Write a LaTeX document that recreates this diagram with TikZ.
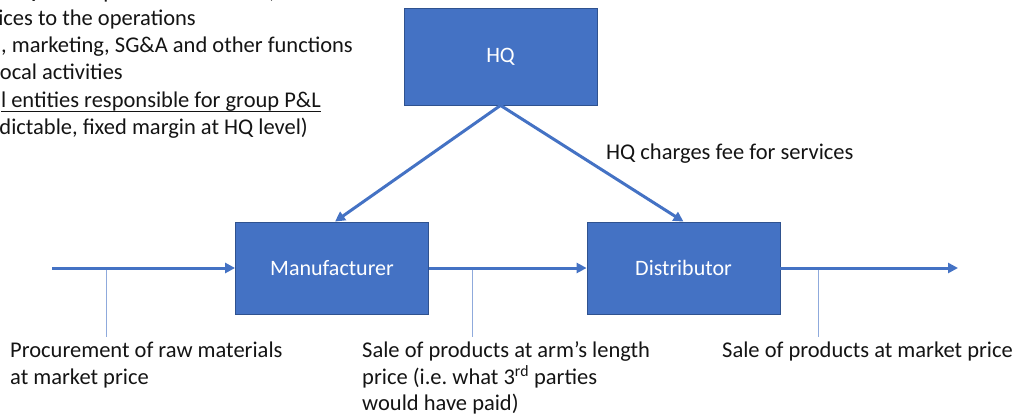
\documentclass[tikz,border=0pt]{standalone}
\usepackage{fontspec}
\setmainfont{Carlito}
\usetikzlibrary{arrows.meta,calc}
\definecolor{boxblue}{HTML}{4472C4}
\definecolor{boxedge}{HTML}{2F528F}
\definecolor{tickblue}{HTML}{8FAADC}
\definecolor{ink}{HTML}{141414}
\begin{document}
\begin{tikzpicture}[x=1pt,y=-1pt,
  font=\fontsize{22.5}{26.5}\selectfont,
  entity/.style={draw=boxedge, line width=0.8pt, fill=boxblue, text=white, inner sep=0pt, minimum width=193pt, font=\fontsize{22}{26.5}\selectfont},
  flow/.style={draw=boxblue, line width=3pt, -{Triangle[length=10pt,width=10pt]}},
  tickline/.style={draw=tickblue, line width=0.9pt},
  lbl/.style={anchor=base west, inner sep=0pt, align=left, text=ink},
  frag/.style={anchor=base east, inner sep=0pt, text=ink}]
\useasboundingbox (0,0) rectangle (1016,417);
\clip (0,0) rectangle (1016,417);

% entities
\node[entity, minimum height=97pt] (hq) at (500.5,56.5) {HQ};
\node[entity, minimum height=92pt] (mfr) at (332,268) {Manufacturer};
\node[entity, minimum height=92pt] (dist) at (683.5,268) {Distributor};

% ticks
\coordinate (t1a) at (106,268); \coordinate (t1b) at (106,337);
\coordinate (t2a) at (472,268); \coordinate (t2b) at (472,337);
\coordinate (t3a) at (818,268); \coordinate (t3b) at (818,337);
\draw[tickline] (t1a) -- (t1b);
\draw[tickline] (t2a) -- (t2b);
\draw[tickline] (t3a) -- (t3b);

% flows
\coordinate (src) at (52,268);
\coordinate (snk) at (958,268);
\draw[flow] (src) -- (mfr.west);
\draw[flow] (mfr.east) -- (dist.west);
\draw[flow] (dist.east) -- (snk);
\draw[flow] (hq.south) -- ($(mfr.north)+(3,0)$);
\draw[flow] (hq.south) -- (dist.north);

% labels (base anchor = baseline of last line)
\node[lbl] (proc) at (10,384) {Procurement of raw materials\\at market price};
\node[lbl] (arm) at (362,410.5) {Sale of products at arm’s length\\price (i.e.\ what 3\textsuperscript{rd} parties\\would have paid)};
\node[lbl] (mkt) at (722,357.5) {Sale of products at market price};
\node[lbl] (fee) at (606,159) {HQ charges fee for services};

% top-left text fragments (cut by the left and top edges, as in the reference)
\node[frag] (f0) at (333,-1) {HQ makes predictable return, for its};
\node[frag] (f1) at (196,26) {ices to the operations};
\node[frag] (f2) at (353,53) {, marketing, SG\&A and other functions};
\node[frag] (f3) at (123,80) {ocal activities};
\node[frag] (f4) at (321,107) {l entities responsible for group P\&L};
\node[frag] (f5) at (308,134) {dictable, fixed margin at HQ level)};
\draw[ink, line width=0.9pt] ($(f4.base west)+(0,4.5)$) -- ($(f4.base east)+(0,4.5)$);
\end{tikzpicture}
\end{document}
